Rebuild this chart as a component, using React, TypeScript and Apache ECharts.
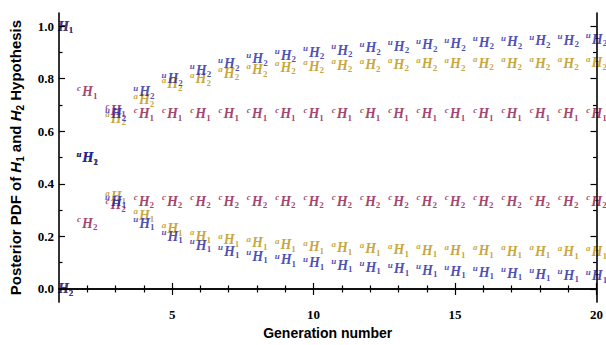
import React, { useEffect, useRef } from "react";
import * as echarts from "echarts";

const generations = [1, 2, 3, 4, 5, 6, 7, 8, 9, 10, 11, 12, 13, 14, 15, 16, 17, 18, 19, 20];

const cH1 = [1, 0.75, 0.68, 0.667, 0.667, 0.667, 0.667, 0.667, 0.667, 0.667, 0.667, 0.667, 0.667, 0.667, 0.667, 0.667, 0.667, 0.667, 0.667, 0.667];
const cH2 = [0, 0.25, 0.32, 0.333, 0.333, 0.333, 0.333, 0.333, 0.333, 0.333, 0.333, 0.333, 0.333, 0.333, 0.333, 0.333, 0.333, 0.333, 0.333, 0.333];
const aH1 = [1, 0.5, 0.35, 0.28, 0.23, 0.2, 0.187, 0.176, 0.168, 0.16, 0.156, 0.153, 0.15, 0.148, 0.146, 0.145, 0.144, 0.143, 0.142, 0.142];
const aH2 = [0, 0.5, 0.65, 0.72, 0.78, 0.8, 0.82, 0.835, 0.843, 0.848, 0.851, 0.853, 0.855, 0.856, 0.857, 0.858, 0.858, 0.859, 0.859, 0.86];
const uH1 = [1, 0.5, 0.333, 0.25, 0.2, 0.167, 0.143, 0.125, 0.111, 0.1, 0.091, 0.083, 0.077, 0.071, 0.067, 0.063, 0.059, 0.056, 0.053, 0.05];
const uH2 = [0, 0.5, 0.667, 0.75, 0.8, 0.833, 0.857, 0.875, 0.889, 0.9, 0.909, 0.917, 0.923, 0.929, 0.933, 0.938, 0.941, 0.944, 0.947, 0.95];

const yMajor = [0, 0.2, 0.4, 0.6, 0.8, 1.0];
const yMinor = [0.1, 0.3, 0.5, 0.7, 0.9];
const xMajor = [5, 10, 15, 20];
const xMinor = [2, 3, 4, 6, 7, 8, 9, 11, 12, 13, 14, 16, 17, 18, 19];

const COLORS = { c: "#8c1149", a: "#b98f08", u: "#1d22a3" };

const SERIF = "'Liberation Serif', 'DejaVu Serif', serif";
const SANS = "'Liberation Sans', Arial, sans-serif";

function makeSeries(name: string, sup: string, sub: string, color: string, values: number[]) {
  return {
    name,
    type: "scatter",
    symbol: "circle",
    symbolSize: 0.1,
    itemStyle: { color: "rgba(0,0,0,0)" },
    z: 2,
    data: generations.map((g, i) => {
      const item: any = { value: [g, values[i]] };
      if (i === 0) {
        // first generation sits on the left frame: only the right half of the marker is visible
        item.label = { formatter: `{h|H}{b|${sub}}`, position: [-1, 0], align: "left", verticalAlign: "middle" };
      }
      return item;
    }),
    label: {
      show: true,
      position: "inside",
      color,
      formatter: `{s|${sup}}{h|H}{b|${sub}}`,
      rich: {
        s: { fontSize: 9, fontStyle: "italic", fontWeight: "bold", fontFamily: SERIF, verticalAlign: "top", color, padding: [0, 1, 0, 0] },
        h: { fontSize: 14, fontStyle: "italic", fontWeight: "bold", fontFamily: SERIF, lineHeight: 17, color },
        b: { fontSize: 9, fontWeight: "bold", fontFamily: SERIF, verticalAlign: "bottom", color },
      },
    },
  };
}

export default function App() {
  const ref = useRef<HTMLDivElement>(null);
  useEffect(() => {
    document.body.style.margin = "0";
    const chart = echarts.init(ref.current!, null, { renderer: "svg" });
    const line = { show: true, lineStyle: { color: "#000", width: 1.6 } };
    const noLine = { show: false };
    const yBase = { type: "value", min: -0.05, max: 1.05, splitLine: { show: false }, z: 200 };
    const xBase = { type: "value", min: 1, max: 20, splitLine: { show: false }, z: 200 };
    const tick = (vals: number[], len: number) => ({
      show: true,
      inside: true,
      length: len,
      customValues: vals,
      lineStyle: { color: "#000", width: 1.2 },
    });
    const labelFont = { fontFamily: SERIF, fontWeight: "bold", fontSize: 13, color: "#000" };
    chart.setOption({
      animation: false,
      grid: { left: 54, right: 3, top: 13, bottom: 37 },
      xAxis: [
        {
          ...xBase,
          position: "bottom",
          axisLine: line,
          axisTick: tick(xMajor, 6),
          axisLabel: { ...labelFont, customValues: xMajor, margin: 6 },
          name: "Generation number",
          nameLocation: "middle",
          nameGap: 17,
          nameTextStyle: { fontFamily: SANS, fontWeight: "bold", fontSize: 14, color: "#000" },
        },
        { ...xBase, position: "bottom", axisLine: noLine, axisTick: tick(xMinor, 3.5), axisLabel: { show: false } },
        { ...xBase, position: "top", axisLine: line, axisTick: tick(xMajor, 6), axisLabel: { show: false } },
        { ...xBase, position: "top", axisLine: noLine, axisTick: tick(xMinor, 3.5), axisLabel: { show: false } },
      ],
      yAxis: [
        {
          ...yBase,
          position: "left",
          axisLine: line,
          axisTick: tick(yMajor, 6),
          axisLabel: { ...labelFont, customValues: yMajor, margin: 5, formatter: (v: number) => v.toFixed(1) },
          name: "Posterior PDF of {i|H}{sb|1} and {i|H}{sb|2} Hypothesis",
          nameLocation: "middle",
          nameGap: 34,
          nameRotate: 90,
          nameTextStyle: {
            fontFamily: SANS,
            fontWeight: "bold",
            fontSize: 15,
            color: "#000",
            rich: {
              i: { fontFamily: SANS, fontWeight: "bold", fontStyle: "italic", fontSize: 15, color: "#000", lineHeight: 19 },
              sb: { fontFamily: SANS, fontWeight: "bold", fontSize: 10, color: "#000", verticalAlign: "bottom" },
            },
          },
        },
        { ...yBase, position: "left", axisLine: noLine, axisTick: tick(yMinor, 3.5), axisLabel: { show: false } },
        { ...yBase, position: "right", axisLine: line, axisTick: tick(yMajor, 6), axisLabel: { show: false } },
        { ...yBase, position: "right", axisLine: noLine, axisTick: tick(yMinor, 3.5), axisLabel: { show: false } },
      ],
      series: [
        makeSeries("cH1", "c", "1", COLORS.c, cH1),
        makeSeries("cH2", "c", "2", COLORS.c, cH2),
        makeSeries("aH1", "a", "1", COLORS.a, aH1),
        makeSeries("aH2", "a", "2", COLORS.a, aH2),
        makeSeries("uH1", "u", "1", COLORS.u, uH1),
        makeSeries("uH2", "u", "2", COLORS.u, uH2),
      ],
    });
    return () => chart.dispose();
  }, []);
  return <div ref={ref} style={{ width: 606, height: 345 }} />;
}
